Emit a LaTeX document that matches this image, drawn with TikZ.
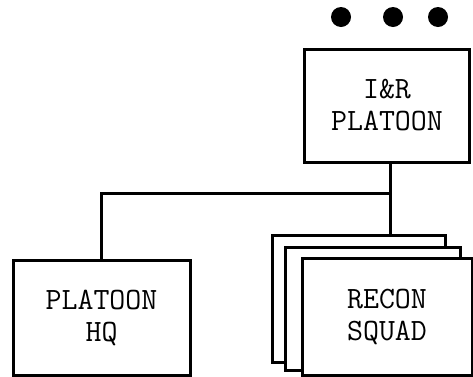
\documentclass[tikz,border=0pt]{standalone}
\tikzset{
  unit/.style={draw=black, line width=3pt, fill=white, inner sep=0pt, font=\ttfamily\fontsize{31}{32}\selectfont, align=center},
  link/.style={draw=black, line width=3pt},
  dot/.style={circle, fill=black, minimum size=20pt, inner sep=0pt}
}
\begin{document}
\begin{tikzpicture}[x=1pt,y=-1pt]
\useasboundingbox (0,0) rectangle (473,376);
% dots
\node[dot] (d1) at (341,17) {};
\node[dot] (d2) at (393,17) {};
\node[dot] (d3) at (438,17) {};
% I&R platoon
\node[unit, minimum width=165pt, minimum height=113pt] (ir) at (387,105.5) {I\&R\\PLATOON};
% platoon HQ
\node[unit, minimum width=177pt, minimum height=115pt] (hq) at (101.5,317.5) {PLATOON\\HQ};
% recon squads (stacked)
\node[unit, minimum width=173pt, minimum height=127pt] (rs3) at (358.5,298.5) {};
\node[unit, minimum width=175pt, minimum height=123pt] (rs2) at (372.5,308.5) {};
\node[unit, minimum width=170pt, minimum height=117pt] (rs1) at (387,316.5) {RECON\\SQUAD};
% connectors
\coordinate (j) at (390,193);
\draw[link] (ir.south -| j) -- (j) -- (j -| hq.north) -- (hq.north);
\draw[link] (j) -- (j |- rs3.north);
\end{tikzpicture}
\end{document}
